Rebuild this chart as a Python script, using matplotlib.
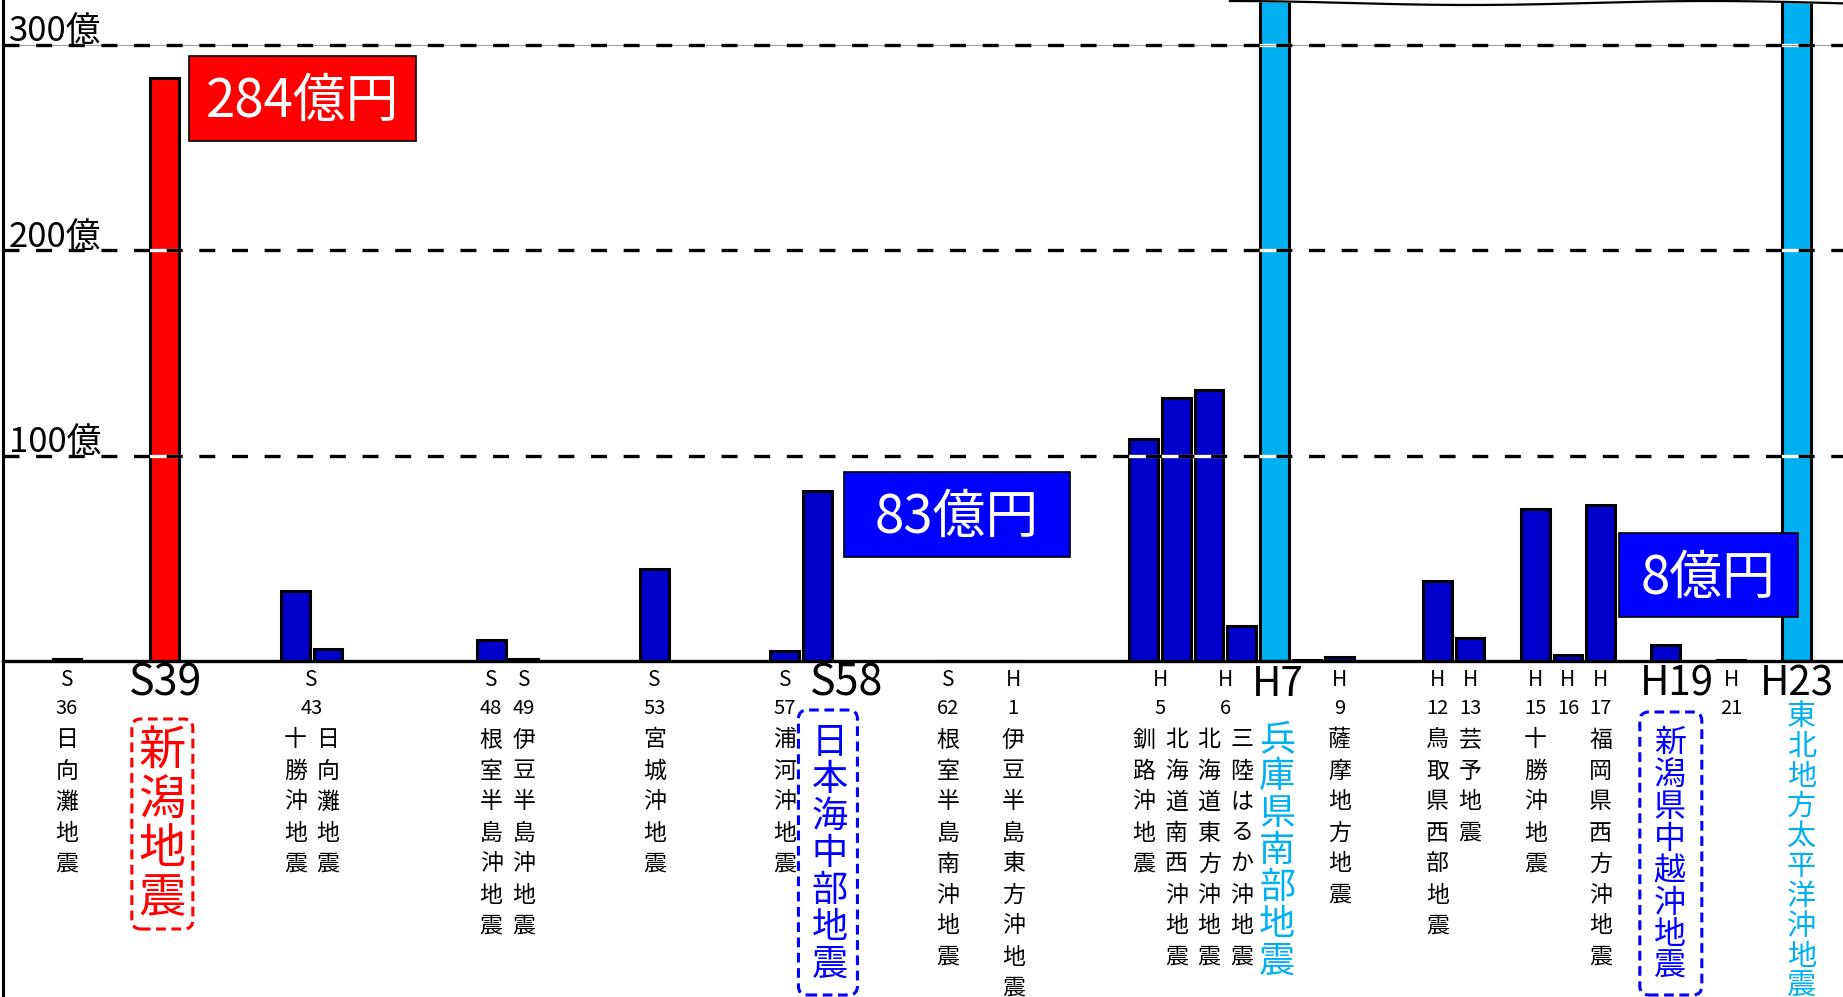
import numpy as np
import matplotlib
matplotlib.use("Agg")
import matplotlib.pyplot as plt
from matplotlib.patches import FancyBboxPatch, Rectangle
from matplotlib.transforms import IdentityTransform
from matplotlib.lines import Line2D

plt.rcParams['font.family'] = ['Noto Sans CJK JP', 'DejaVu Sans']
plt.rcParams['lines.scale_dashes'] = False

# --- data (億円) ---
years = [1961, 1964, 1968, 1968, 1973, 1974, 1978, 1982, 1983, 1987, 1989,
         1993, 1993, 1994, 1994, 1995, 1996, 1997, 2000, 2001, 2003, 2004,
         2005, 2007, 2009, 2011]
era_labels = ["S36", "S39", "S43", "S43", "S48", "S49", "S53", "S57", "S58",
              "S62", "H1", "H5", "H5", "H6", "H6", "H7", "", "H9", "H12",
              "H13", "H15", "H16", "H17", "H19", "H21", "H23"]
quake_names = ["日向灘地震", "新潟地震", "十勝沖地震", "日向灘地震",
               "根室半島沖地震", "伊豆半島沖地震", "宮城沖地震", "浦河沖地震",
               "日本海中部地震", "根室半島南沖地震", "伊豆半島東方沖地震",
               "釧路沖地震", "北海道南西沖地震", "北海道東方沖地震",
               "三陸はるか沖地震", "兵庫県南部地震", "", "薩摩地方地震",
               "鳥取県西部地震", "芸予地震", "十勝沖地震", "", "福岡県西方沖地震",
               "新潟県中越沖地震", "", "東北地方太平洋沖地震"]
payouts = [1, 284, 34, 6, 10, 1, 45, 5, 83, 0, 0, 108, 128, 132, 17, 783,
           0.5, 2, 39, 11, 74, 3, 76, 8, 0.5, 12346]
y_ticks = [100, 200, 300]
callouts = ["284億円", "83億円", "8億円"]

# --- styles ---
DARK = "#0000CC"
highlight = {
    "S39": dict(bar="#FF0000", color="#FF0000", era_size=31, era_dx=1,
                name_size=34, name_dx=-3, name_top=91, name_step=49,
                box=(-33, 28, 58, 268)),
    "S58": dict(bar=DARK, color="#0000FF", era_size=31, era_dx=29,
                name_size=26, name_dx=12, name_top=82, name_step=37,
                box=(-19, 40, 49, 334)),
    "H7": dict(bar="#00B0F0", color="#00B0F0", era_size=29, era_dx=3,
               name_size=26, name_dx=3, name_top=79, name_step=37, box=None),
    "H19": dict(bar=DARK, color="#0000FF", era_size=29, era_dx=11,
                name_size=23, name_dx=4, name_top=82, name_step=32,
                box=(-26, 36, 51, 334)),
    "H23": dict(bar="#00B0F0", color="#00B0F0", era_size=29, era_dx=1,
                name_size=21, name_dx=5, name_top=56, name_step=30, box=None),
}
callout_style = [
    dict(fc="#FF0000", rect=(3.74, 253.3, 6.95, 41.4)),
    dict(fc="#0000FF", rect=(23.81, 50.7, 6.93, 41.4)),
    dict(fc="#0000FF", rect=(47.56, 21.4, 5.49, 40.9)),
]

# slot positions: one per year, extra slot for a second quake in a year
slots = []
pos = 0
for i, yr in enumerate(years):
    if i > 0:
        pos += max(1, yr - years[i - 1])
    slots.append(pos)
slots = np.array(slots)

W, H = 1843, 997
fig = plt.figure(figsize=(W / 100, H / 100), dpi=100)
ax = fig.add_axes([3 / W, 336 / H, 1 - 3 / W, 661 / H])
ax.set_xlim(-1.96, 54.43)
ax.set_ylim(0, 322)
ax.axis("off")

colors = [highlight[e]["bar"] if e in highlight else DARK for e in era_labels]
ax.bar(slots, payouts, width=0.88, color=colors, edgecolor="black",
       linewidth=2.2, zorder=2)

# baseline and left line
ax.axhline(0, color="black", lw=2.4, zorder=5, clip_on=False)
fig.add_artist(Line2D([3 / W, 3 / W], [0, 1], transform=fig.transFigure,
                      color="black", lw=2.2))

# dashed gridlines drawn above the bars
for v in y_ticks:
    ax.axhline(v, color="white", lw=2.4, zorder=3)
    ax.axhline(v, color="black", lw=2.4, ls=(0, (11.5, 12)), zorder=4)
    ax.annotate(f"{v}億", xy=(0, v), xycoords=("axes fraction", "data"),
                xytext=(6, 3), textcoords="offset pixels", fontsize=25,
                ha="left", va="baseline", zorder=6)
ax.axhline(300, color="#A0A0A0", lw=0.8, zorder=3)

# callout boxes
for txt, st in zip(callouts, callout_style):
    x0, y0, w, h = st["rect"]
    ax.add_patch(Rectangle((x0, y0), w, h, facecolor=st["fc"],
                           edgecolor="black", lw=1.2, zorder=7))
    ax.text(x0 + w / 2, y0 + h / 2 - 1.5, txt, color="white", fontsize=38,
            ha="center", va="center", zorder=8)

# break line at the top for the two off-scale bars
xw = np.linspace(35.64, 54.43, 300)
yw = 1 - (3 - 2 * np.cos(2 * np.pi * (xw - 35.64) / 14.7)) / 661
trans = ax.get_xaxis_transform()
ax.fill_between(xw, yw, 1.01, color="white", transform=trans, zorder=6,
                clip_on=False)
ax.plot(xw, yw, color="black", lw=1.6, transform=trans, zorder=7,
        clip_on=False)


def put(s, x, dx, dy, size, color="black"):
    ax.annotate(s, xy=(x, 0), xycoords="data", xytext=(dx, -dy),
                textcoords="offset pixels", ha="center", va="center",
                fontsize=size, color=color, annotation_clip=False)


# era labels (shared label when two quakes fall in one year)
done = set()
for i, era in enumerate(era_labels):
    if not era or era in done:
        continue
    done.add(era)
    idx = [j for j, e in enumerate(era_labels) if e == era]
    xc = slots[idx].mean()
    if era in highlight:
        st = highlight[era]
        put(era, xc, st["era_dx"], 23, st["era_size"])
    else:
        put(era[0], xc, 0, 19, 15)
        put(era[1:], xc, 0, 47, 14.5)

# vertical quake names
fig.canvas.draw()
for i, name in enumerate(quake_names):
    if not name:
        continue
    era = era_labels[i]
    if era in highlight:
        st = highlight[era]
        for k, ch in enumerate(name):
            put(ch, slots[i], st["name_dx"], st["name_top"] + k * st["name_step"],
                st["name_size"], st["color"])
        if st["box"]:
            bx0, bx1, by0, by1 = st["box"]
            px, py = ax.transData.transform((slots[i], 0))
            fig.add_artist(FancyBboxPatch(
                (px + bx0, py - by1), bx1 - bx0, by1 - by0,
                boxstyle="round,pad=0,rounding_size=9",
                transform=IdentityTransform(), fill=False,
                edgecolor=st["color"], lw=2.2, ls=(0, (7, 4))))
    else:
        for k, ch in enumerate(name):
            put(ch, slots[i], 0, 79 + k * 31, 16.5)

fig.savefig("out.png", dpi=100)
